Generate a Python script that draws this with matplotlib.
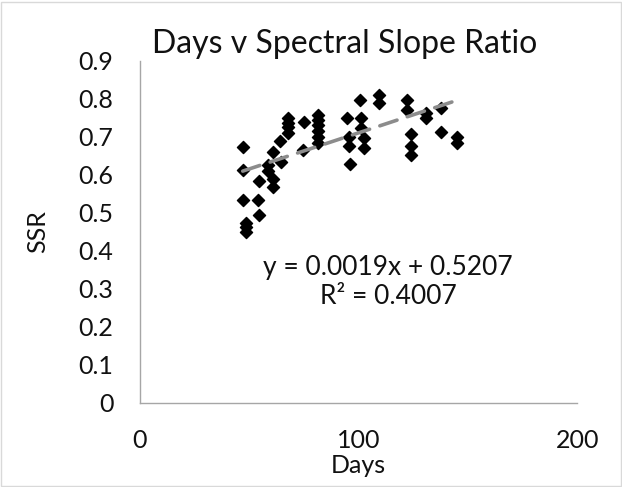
import matplotlib.pyplot as plt
import numpy as np

# days and spectral slope ratio
days = [47.3, 47, 54.6, 58.7, 58.7, 60.7, 60.7, 60.7, 64, 64.4,
        67.9, 67.9, 67.9, 67.9, 75, 74.5,
        81.6, 81.6, 81.6, 81.6, 81.6, 81.6,
        47.3, 54.1, 54.6, 48.5, 48.5, 48.5,
        100.7, 109.5, 109.5, 94.9, 101, 101, 95.8, 102.5, 102.5, 95.8, 96.1,
        122, 122, 130.9, 131, 137.6, 123.9, 123.9, 123.9, 137.6, 145, 145]
ssr = [0.674, 0.613, 0.585, 0.626, 0.609, 0.589, 0.569, 0.661, 0.688, 0.635,
       0.75, 0.737, 0.725, 0.71, 0.74, 0.666,
       0.758, 0.745, 0.73, 0.715, 0.70, 0.685,
       0.534, 0.534, 0.495, 0.474, 0.462, 0.45,
       0.797, 0.81, 0.79, 0.751, 0.749, 0.723, 0.70, 0.697, 0.67, 0.675, 0.628,
       0.797, 0.77, 0.749, 0.762, 0.777, 0.707, 0.675, 0.653, 0.714, 0.70, 0.684]

# linear trendline as printed on the chart
slope = 0.0019
intercept = 0.5207
r2 = 0.4007

plt.rcParams['font.family'] = ['Lato', 'DejaVu Sans']

fig = plt.figure(figsize=(6.22, 4.87), dpi=100)
ax = fig.add_axes([0.225, 0.1725, 0.703, 0.7025])

ax.scatter(days, ssr, marker='D', s=38, color='black', zorder=3)

xt = np.array([min(days), max(days)])
ax.plot(xt, slope * xt + intercept, color='#8c8c8c', lw=2.6,
        dashes=(5, 3), solid_capstyle='round', dash_capstyle='round', zorder=4)

ax.set_xlim(0, 200)
ax.set_ylim(0, 0.9)
ax.set_xticks([0, 100, 200])
ax.set_yticks(np.arange(0, 0.91, 0.1))
ax.set_yticklabels(['0'] + [f'{v:.1f}' for v in np.arange(0.1, 0.91, 0.1)])
ax.tick_params(length=0, labelsize=18, colors='#111111')
ax.tick_params(axis='y', pad=19)
ax.tick_params(axis='x', pad=19)

for s in ['top', 'right']:
    ax.spines[s].set_visible(False)
for s in ['left', 'bottom']:
    ax.spines[s].set_color('#a6a6a6')
    ax.spines[s].set_linewidth(1)

ax.set_title('Days v Spectral Slope Ratio', fontsize=23, pad=6, x=0.467, color='#111111')
ax.set_xlabel('Days', fontsize=18, labelpad=1, color='#111111')
ax.set_ylabel('SSR', fontsize=18, labelpad=21, color='#111111')

ax.text(113.5, 0.317, f'y = {slope}x + {intercept}\nR² = {r2}', fontsize=19,
        ha='center', va='center', linespacing=1.2, color='#111111')

fig.patches.append(plt.Rectangle((0.002, 0.002), 0.996, 0.994, transform=fig.transFigure,
                                 fill=False, edgecolor='#d9d9d9', lw=1))

fig.savefig('out.png', dpi=100)
